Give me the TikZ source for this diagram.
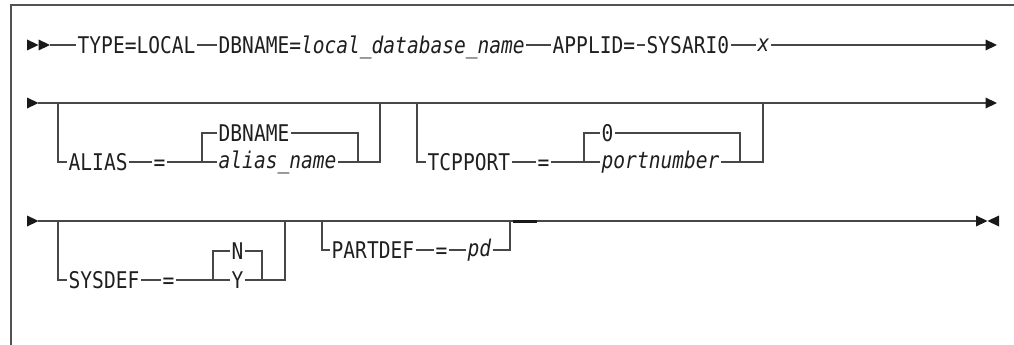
\documentclass[tikz,border=0pt]{standalone}
\usepackage{fontspec}
\setmonofont{DejaVu Sans Mono}[FakeStretch=0.85]
\usetikzlibrary{calc}

\tikzset{
  rail/.style={draw=black!72, line width=1.3pt},
  frame/.style={draw=black!68, line width=2pt},
  tip/.style={fill=black!90},
  kw/.style={anchor=west, inner xsep=1.5pt, inner ysep=0pt, text height=16.8pt, text depth=0pt,
             text=black!88, font=\ttfamily\fontsize{23}{27}\selectfont},
  var/.style={kw, text height=12.5pt, font=\ttfamily\itshape\fontsize{23}{27}\selectfont},
}
\newcommand{\rtip}[1]{\fill[tip] (#1) -- ++(-11.5,-5.5) -- ++(0,11) -- cycle;}
\newcommand{\ltip}[1]{\fill[tip] (#1) -- ++(11.5,-5.5) -- ++(0,11) -- cycle;}

\begin{document}
\begin{tikzpicture}[x=1pt, y=-1pt]
\useasboundingbox (0,0) rectangle (1014,345);

\draw[frame] (1014,5) -- (11,5) -- (11,345);

% first line
\rtip{38.5,45}
\rtip{50,45}
\coordinate (s1) at (50,45);
\node[kw] (type) at (76,45) {TYPE=LOCAL};
\node[kw] (dbname) at (217,45) {DBNAME=\textit{local\_database\_name}};
\node[kw] (applid) at (551,45) {APPLID=};
\node[kw] (sysari) at (645,45) {SYSARI0};
\node[var] (xval) at (756,45) {x};
\coordinate (e1) at (986,45);
\draw[rail] (s1) -- (type) -- (dbname) -- (applid) -- (sysari) -- (xval) -- (e1);
\rtip{997,45}

% second line
\rtip{38.5,103}
\coordinate (s2) at (38,103);
\coordinate (e2) at (986,103);
\draw[rail] (s2) -- (e2);
\rtip{997,103}

\coordinate (a1) at (58,103);
\node[kw] (alias) at (67,162) {ALIAS};
\node[kw] (eqa) at (152,162) {=};
\coordinate (a2) at (202,162);
\node[kw] (dflt) at (217,133) {DBNAME};
\node[var] (aname) at (217,162) {alias\_name};
\coordinate (a3) at (358,162);
\coordinate (a4) at (380,162);
\coordinate (a5) at (380,103);
\draw[rail] (a1) |- (alias) -- (eqa) -- (a2) |- (dflt);
\draw[rail] (a2) -- (aname) -- (a3) -- (a4) -- (a5);
\draw[rail] (dflt) -| (a3);

\coordinate (t1) at (417,103);
\node[kw] (tcp) at (426,162) {TCPPORT};
\node[kw] (eqt) at (536,162) {=};
\coordinate (t2) at (584,162);
\node[kw] (zero) at (600,133) {0};
\node[var] (pnum) at (600,162) {portnumber};
\coordinate (t3) at (740,162);
\coordinate (t4) at (763,162);
\coordinate (t5) at (763,103);
\draw[rail] (t1) |- (tcp) -- (eqt) -- (t2) |- (zero);
\draw[rail] (t2) -- (pnum) -- (t3) -- (t4) -- (t5);
\draw[rail] (zero) -| (t3);

% third line
\rtip{38.5,221}
\coordinate (s3) at (38,221);
\coordinate (e3) at (976,221);
\draw[rail] (s3) -- (e3);
\rtip{987.5,221}
\ltip{987.5,221}

\coordinate (y1) at (58,221);
\node[kw] (sysdef) at (67,280) {SYSDEF};
\node[kw] (eqs) at (161,280) {=};
\coordinate (y2) at (213,280);
\node[kw] (nval) at (230,251) {N};
\node[kw] (yval) at (230,280) {Y};
\coordinate (y3) at (262,280);
\coordinate (y4) at (285,280);
\coordinate (y5) at (285,221);
\draw[rail] (y1) |- (sysdef) -- (eqs) -- (y2) |- (nval);
\draw[rail] (y2) -- (yval) -- (y3) -- (y4) -- (y5);
\draw[rail] (nval) -| (y3);

\coordinate (p1) at (322,221);
\node[kw] (partdef) at (330,250) {PARTDEF};
\node[kw] (eqp) at (434,250) {=};
\node[var] (pd) at (466,250) {pd};
\coordinate (p2) at (510,250);
\coordinate (p3) at (510,221);
\draw[rail] (p1) |- (partdef) -- (eqp) -- (pd) -- (p2) -- (p3);

\coordinate (b1) at (513,221);
\coordinate (b2) at (537,221);
\draw[line width=3pt, black!90] (b1) -- (b2);

\end{tikzpicture}
\end{document}
